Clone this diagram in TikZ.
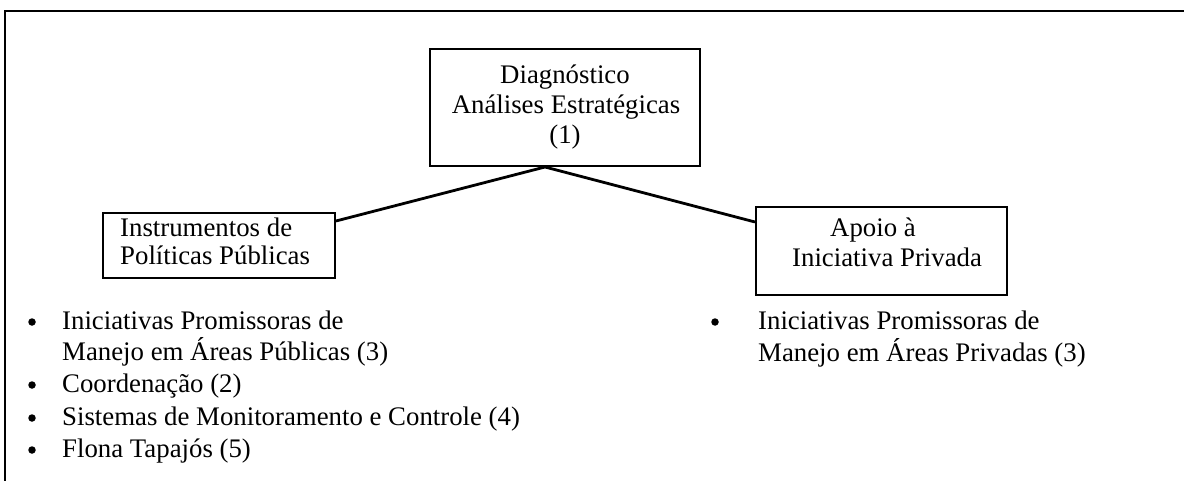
\documentclass[tikz,border=0pt]{standalone}
\usepackage{fontspec}
\setmainfont{Liberation Serif}
\usetikzlibrary{calc}
\begin{document}
\begin{tikzpicture}[x=1pt,y=-1pt,
  frameline/.style={line width=2.6pt},
  boxnode/.style={draw,line width=2pt,inner sep=0pt},
  conn/.style={line width=2.8pt},
  txt/.style={inner sep=0pt,font=\fontsize{26.8}{30}\selectfont},
  bul/.style={circle,fill=black,inner sep=0pt,minimum size=7.5pt}]
\useasboundingbox (0,0) rectangle (1184,481);
% outer frame (cropped)
\coordinate (ftr) at (1184,11);
\coordinate (ftl) at (5,11);
\coordinate (fbl) at (5,481);
\draw[frameline] (ftr) -- (ftl) -- (fbl);
% boxes
\node[boxnode,minimum width=270pt,minimum height=117pt] (diag) at (565,107.5) {};
\node[boxnode,minimum width=232pt,minimum height=65pt] (inst) at (219,245.5) {};
\node[boxnode,minimum width=251pt,minimum height=88pt] (apoio) at (881.5,251) {};
% box texts
\node[txt,anchor=base] (d1) at (565,84) {Diagnóstico};
\node[txt,anchor=base] (d2) at (566,114) {Análises Estratégicas};
\node[txt,anchor=base] (d3) at (565,144) {(1)};
\node[txt,anchor=base west] (i1) at (120,237) {Instrumentos de};
\node[txt,anchor=base west] (i2) at (120,265) {Políticas Públicas};
\node[txt,anchor=base west] (a1) at (830,237) {Apoio à};
\node[txt,anchor=base west] (a2) at (792,266) {Iniciativa Privada};
% connectors
\coordinate (dj) at ($(diag.south)+(-20,0)$);
\coordinate (ij) at ($(inst.north east)+(0,9)$);
\coordinate (aj) at ($(apoio.north west)+(0,16)$);
\draw[conn] (ij) -- (dj) -- (aj);
% left bullet list
\node[bul] (b1) at (32,322) {};
\node[txt,anchor=base west] (l1) at (62,329) {Iniciativas Promissoras de};
\node[txt,anchor=base west] (l2) at (62,360) {Manejo em Áreas Públicas (3)};
\node[bul] (b2) at (32,385) {};
\node[txt,anchor=base west] (l3) at (62,392) {Coordenação (2)};
\node[bul] (b3) at (32,418) {};
\node[txt,anchor=base west] (l4) at (62,425) {Sistemas de Monitoramento e Controle (4)};
\node[bul] (b4) at (32,450) {};
\node[txt,anchor=base west] (l5) at (62,457) {Flona Tapajós (5)};
% right bullet list
\node[bul] (b5) at (715,322) {};
\node[txt,anchor=base west] (r1) at (758,329) {Iniciativas Promissoras de};
\node[txt,anchor=base west] (r2) at (758,361) {Manejo em Áreas Privadas (3)};
\end{tikzpicture}
\end{document}
